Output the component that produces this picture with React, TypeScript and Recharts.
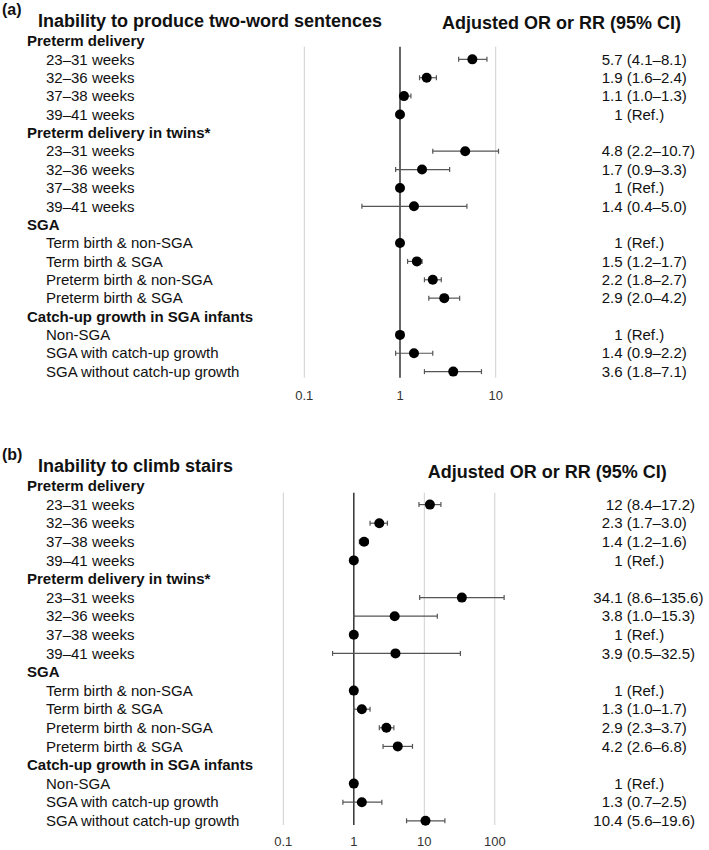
import { ScatterChart, Scatter, XAxis, YAxis, ErrorBar, ReferenceLine } from "recharts";

const FONT = '"Liberation Sans", Arial, Helvetica, sans-serif';

// row labels, grouped
const GROUPS = ["Preterm delivery", "Preterm delivery in twins*", "SGA", "Catch-up growth in SGA infants"];
const GROUP_ITEMS = [
  ["23–31 weeks", "32–36 weeks", "37–38 weeks", "39–41 weeks"],
  ["23–31 weeks", "32–36 weeks", "37–38 weeks", "39–41 weeks"],
  ["Term birth & non-SGA", "Term birth & SGA", "Preterm birth & non-SGA", "Preterm birth & SGA"],
  ["Non-SGA", "SGA with catch-up growth", "SGA without catch-up growth"],
];

// (a) inability to produce two-word sentences
const SPEECH_EST = [5.7, 1.9, 1.1, 1, 4.8, 1.7, 1, 1.4, 1, 1.5, 2.2, 2.9, 1, 1.4, 3.6];
const SPEECH_LO = [4.1, 1.6, 1.0, null, 2.2, 0.9, null, 0.4, null, 1.2, 1.8, 2.0, null, 0.9, 1.8];
const SPEECH_HI = [8.1, 2.4, 1.3, null, 10.7, 3.3, null, 5.0, null, 1.7, 2.7, 4.2, null, 2.2, 7.1];

// (b) inability to climb stairs
const STAIRS_EST = [12, 2.3, 1.4, 1, 34.1, 3.8, 1, 3.9, 1, 1.3, 2.9, 4.2, 1, 1.3, 10.4];
const STAIRS_LO = [8.4, 1.7, 1.2, null, 8.6, 1.0, null, 0.5, null, 1.0, 2.3, 2.6, null, 0.7, 5.6];
const STAIRS_HI = [17.2, 3.0, 1.6, null, 135.6, 15.3, null, 32.5, null, 1.7, 3.7, 6.8, null, 2.5, 19.6];

const TICKS_A = [0.1, 1, 10];
const TICKS_B = [0.1, 1, 10, 100];

type Row = { label: string; header: boolean; k: number };

const ROWS: Row[] = [];
let counter = 0;
GROUPS.forEach((g, gi) => {
  ROWS.push({ label: g, header: true, k: -1 });
  GROUP_ITEMS[gi].forEach((item) => {
    ROWS.push({ label: item, header: false, k: counter++ });
  });
});
const ROW_TICKS = ROWS.map((_, i) => i);

const buildData = (est: number[], lo: (number | null)[], hi: (number | null)[]) =>
  ROWS.filter((r) => !r.header).map((r) => {
    const e = est[r.k];
    const l = lo[r.k];
    const h = hi[r.k];
    return { x: e, row: ROWS.indexOf(r), err: l == null || h == null ? [0, 0] : [e - l, h - e] };
  });

const ciText = (lo: number | null, hi: number | null) =>
  lo == null || hi == null ? "(Ref.)" : `(${lo.toFixed(1)}–${hi.toFixed(1)})`;

const RowTick = (props: any) => {
  const { y, payload, est, lo, hi } = props;
  const row = ROWS[payload.value];
  if (!row) return <g />;
  return (
    <g fontFamily={FONT} fontSize={15} fill="#111">
      <text x={row.header ? 27 : 46} y={y} dy="0.35em" fontWeight={row.header ? 700 : 400}>
        {row.label}
      </text>
      {!row.header && (
        <>
          <text x={622.5} y={y} dy="0.35em" textAnchor="end">
            {String(est[row.k])}
          </text>
          <text x={626.7} y={y} dy="0.35em">
            {ciText(lo[row.k], hi[row.k])}
          </text>
        </>
      )}
    </g>
  );
};

const Dot = (p: any) => <circle cx={p.cx} cy={p.cy} r={5} fill="#000" />;

type PanelProps = {
  tag: string;
  title: string;
  est: number[];
  lo: (number | null)[];
  hi: (number | null)[];
  ticks: number[];
  domain: [number, number];
  height: number;
  top: number;
  left: number;
  right: number;
  axisHeight: number;
  tickMargin: number;
  grid: [number, number];
  tagY: number;
  titleY: number;
  headX: number;
  headY: number;
};

const Panel = (p: PanelProps) => {
  const data = buildData(p.est, p.lo, p.hi);
  return (
    <div style={{ position: "relative", width: 709, height: p.height }}>
      <ScatterChart width={709} height={p.height} margin={{ top: p.top, right: p.right, bottom: 0, left: 0 }}>
        <XAxis
          type="number"
          dataKey="x"
          scale="log"
          domain={p.domain}
          ticks={p.ticks}
          interval={0}
          axisLine={false}
          tickLine={false}
          tickSize={0}
          tickMargin={p.tickMargin}
          height={p.axisHeight}
          tick={{ fontSize: 13, fill: "#333", fontFamily: FONT }}
          tickFormatter={(v: number) => String(v)}
        />
        <YAxis
          type="number"
          dataKey="row"
          domain={[-0.5, 18.5]}
          reversed
          ticks={ROW_TICKS}
          interval={0}
          axisLine={false}
          tickLine={false}
          width={p.left}
          tick={(t: any) => <RowTick {...t} est={p.est} lo={p.lo} hi={p.hi} />}
        />
        {p.ticks
          .filter((t) => t !== 1)
          .map((t) => (
            <ReferenceLine
              key={t}
              segment={[{ x: t, y: p.grid[0] }, { x: t, y: p.grid[1] }]}
              stroke="#cfcfcf"
              strokeWidth={1}
              ifOverflow="visible"
            />
          ))}
        <ReferenceLine
          segment={[{ x: 1, y: p.grid[0] }, { x: 1, y: p.grid[1] }]}
          stroke="#333"
          strokeWidth={1.5}
          ifOverflow="visible"
        />
        <Scatter data={data} shape={Dot} isAnimationActive={false}>
          <ErrorBar dataKey="err" direction="x" width={2.5} stroke="#555" strokeWidth={1.2} />
        </Scatter>
      </ScatterChart>
      <svg
        width={709}
        height={p.height}
        style={{ position: "absolute", left: 0, top: 0, pointerEvents: "none" }}
        fontFamily={FONT}
        fontWeight={700}
        fill="#111"
      >
        <text x={2} y={p.tagY} fontSize={16}>
          {p.tag}
        </text>
        <text x={38} y={p.titleY} fontSize={18}>
          {p.title}
        </text>
        <text x={p.headX} y={p.headY} fontSize={18}>
          Adjusted OR or RR (95% CI)
        </text>
      </svg>
    </div>
  );
}

export default function App() {
  return (
    <div style={{ position: "absolute", left: 0, top: 0, width: 709, height: 850, background: "#fff" }}>
      <Panel
        tag="(a)"
        title="Inability to produce two-word sentences"
        est={SPEECH_EST}
        lo={SPEECH_LO}
        hi={SPEECH_HI}
        ticks={TICKS_A}
        domain={[0.1, 100]}
        height={420}
        top={31.8}
        left={304.3}
        right={117.6}
        axisHeight={39.2}
        tickMargin={10}
        grid={[0.31, 18.33]}
        tagY={15}
        titleY={27}
        headX={442}
        headY={28.5}
      />
      <Panel
        tag="(b)"
        title="Inability to climb stairs"
        est={STAIRS_EST}
        lo={STAIRS_LO}
        hi={STAIRS_HI}
        ticks={TICKS_B}
        domain={[0.1, 1000]}
        height={430}
        top={56.7}
        left={283.3}
        right={143.7}
        axisHeight={19.9}
        tickMargin={7}
        grid={[0.36, 18.23]}
        tagY={40}
        titleY={51.7}
        headX={427.7}
        headY={58.3}
      />
    </div>
  );
}
